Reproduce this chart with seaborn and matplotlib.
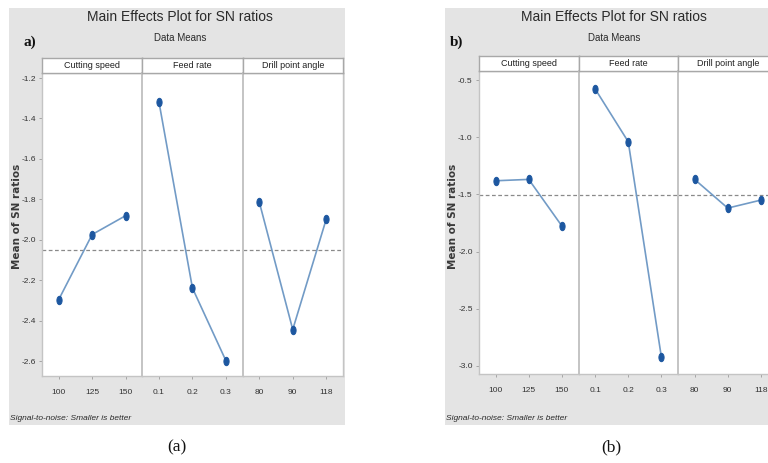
import matplotlib
matplotlib.use("Agg")
import matplotlib.pyplot as plt
import seaborn as sns
import numpy as np
import pandas as pd
from matplotlib.path import Path
from matplotlib.patches import Rectangle

# ---- data ----
factors = ["Cutting speed", "Feed rate", "Drill point angle"]
levels_speed = ["100", "125", "150"]
levels_feed = ["0.1", "0.2", "0.3"]
levels_angle = ["80", "90", "118"]

a_speed = [-2.296, -1.974, -1.881]
a_feed = [-1.320, -2.239, -2.598]
a_angle = [-1.814, -2.444, -1.899]
a_mean = -2.050
a_yticks = [-1.2, -1.4, -1.6, -1.8, -2.0, -2.2, -2.4, -2.6]
a_yticklabels = ["-1.2", "-1.4", "-1.6", "-1.8", "-2.0", "-2.2", "-2.4", "-2.6"]

b_speed = [-1.380, -1.368, -1.776]
b_feed = [-0.576, -1.039, -2.924]
b_angle = [-1.368, -1.619, -1.549]
b_mean = -1.508
b_yticks = [-0.5, -1.0, -1.5, -2.0, -2.5, -3.0]
b_yticklabels = ["-0.5", "-1.0", "-1.5", "-2.0", "-2.5", "-3.0"]

title = "Main Effects Plot for SN ratios"
subtitle = "Data Means"
ylabel = "Mean of SN ratios"
footnote = "Signal-to-noise: Smaller is better"

sns.set_theme(style="white")
plt.rcParams['font.family'] = ['Liberation Sans', 'DejaVu Sans']

W, H = 768, 463
fig = plt.figure(figsize=(W / 100, H / 100), dpi=100)
fig.patch.set_facecolor("white")

def fx(x):
    return x / W

def fy(y):
    return 1 - y / H

circ = Path.unit_circle()
ell = Path(circ.vertices * np.array([0.62, 1.0]), circ.codes)

LINE_C = "#729bc6"
MARK_C = "#1d57a0"
GRID_C = "#c4c4c4"
TXT_C = "#333333"


def panel(gx0, gx1, px0, pw, ptop, pbot, stop, vals, mean, ylim, yticks, yticklabels, tag, tagx, cx):
    fig.patches.append(Rectangle((fx(gx0), fy(425)), fx(gx1) - fx(gx0), fy(8) - fy(425),
                                 transform=fig.transFigure, facecolor="#e4e4e4",
                                 edgecolor="none", zorder=-5))
    fig.text(fx(cx), fy(17), title, ha="center", va="center", fontsize=10, color="#2a2a2a")
    fig.text(fx(cx), fy(38), subtitle, ha="center", va="center", fontsize=7, color="#2a2a2a")
    fig.text(fx(tagx), fy(42), tag, ha="center", va="center", fontsize=11,
             fontweight="bold", family=["Liberation Serif", "DejaVu Serif"], color="#111111")
    fig.text(fx(gx0 + 8), fy(216), ylabel, rotation=90, ha="center", va="center",
             fontsize=7.5, fontweight="bold", family=["DejaVu Sans"], color="#3a3a3a")
    fig.text(fx(gx0 + 1), fy(418), footnote, ha="left", va="center", fontsize=6,
             style="italic", color="#2a2a2a")
    level_sets = [levels_speed, levels_feed, levels_angle]
    for i in range(3):
        x0 = px0 + i * pw
        ax = fig.add_axes([fx(x0), fy(pbot), fx(pw), fy(ptop) - fy(pbot)])
        ax.set_facecolor("white")
        df = pd.DataFrame({"pos": np.arange(3), "value": vals[i]})
        ax.axhline(mean, color="#8a8a8a", lw=0.9, ls=(0, (3, 2)), zorder=1)
        sns.lineplot(data=df, x="pos", y="value", ax=ax, color=LINE_C, lw=1.2,
                     marker=ell, markersize=6, markerfacecolor=MARK_C,
                     markeredgecolor=MARK_C, zorder=3)
        ax.set_xlim(-0.5, 2.5)
        ax.set_ylim(*ylim)
        ax.set_xticks(np.arange(3))
        ax.set_xticklabels(level_sets[i], fontsize=6, color=TXT_C)
        ax.set_xlabel("")
        ax.set_ylabel("")
        ax.tick_params(axis="x", length=2.5, width=0.6, color="#9a9a9a", pad=7, bottom=True)
        ax.set_yticks(yticks)
        if i == 0:
            ax.set_yticklabels(yticklabels, fontsize=6, color=TXT_C)
            ax.tick_params(axis="y", length=2.5, width=0.6, color="#9a9a9a", pad=2, left=True)
        else:
            ax.set_yticklabels([])
            ax.tick_params(axis="y", length=0, left=False)
        for s in ax.spines.values():
            s.set_color(GRID_C)
            s.set_linewidth(1.0)
        ax.spines["left"].set_linewidth(1.4 if i > 0 else 1.0)
        sax = fig.add_axes([fx(x0), fy(ptop), fx(pw), fy(stop) - fy(ptop)])
        sax.set_facecolor("white")
        sax.set_xticks([])
        sax.set_yticks([])
        for s in sax.spines.values():
            s.set_color("#a8a8a8")
            s.set_linewidth(1.0)
        sax.text(0.5, 0.5, factors[i], ha="center", va="center", fontsize=6.5,
                 color="#202020", transform=sax.transAxes)


panel(9, 345, 42, 100.3, 73, 376, 58, [a_speed, a_feed, a_angle], a_mean,
      (-2.674, -1.175), a_yticks, a_yticklabels, "a)", 30, 180)
panel(445, 768, 479, 99.5, 71, 374, 56, [b_speed, b_feed, b_angle], b_mean,
      (-3.07, -0.42), b_yticks, b_yticklabels, "b)", 457, 614)

fig.text(fx(177), fy(447), "(a)", ha="center", va="center", fontsize=12.5,
         family=["Liberation Serif", "DejaVu Serif"], color="#111111")
fig.text(fx(611), fy(447), "(b)", ha="center", va="center", fontsize=12.5,
         family=["Liberation Serif", "DejaVu Serif"], color="#111111")

fig.savefig("out.png", dpi=100, facecolor="white")
